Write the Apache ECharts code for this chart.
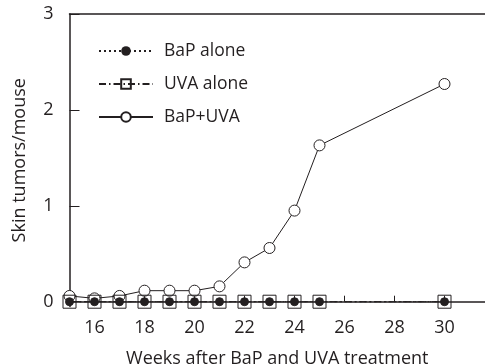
<!DOCTYPE html>
<html>
<head>
<meta charset="utf-8">
<script src="https://cdn.jsdelivr.net/npm/echarts@6/dist/echarts.min.js"></script>
<style>
  html, body { margin: 0; padding: 0; background: #fff; }
  #chart { width: 485px; height: 364px; }
</style>
</head>
<body>
<div id="chart"></div>
<script>
// Weeks after treatment at which tumors were counted
const weeks = [15, 16, 17, 18, 19, 20, 21, 22, 23, 24, 25, 30];
// Skin tumors per mouse
const bapAlone = [0, 0, 0, 0, 0, 0, 0, 0, 0, 0, 0, 0];
const uvaAlone = [0, 0, 0, 0, 0, 0, 0, 0, 0, 0, 0, 0];
const bapUva = [0.06, 0.035, 0.06, 0.115, 0.115, 0.115, 0.16, 0.41, 0.56, 0.95, 1.63, 2.27];

const xTicks = [16, 18, 20, 22, 24, 26, 28, 30];
const yTicks = [0, 1, 2, 3];

const ink = '#231f20';
const font = 'Open Sans';
const fs = 18;

const pairs = arr => weeks.map((w, i) => [w, arr[i]]);

const chart = echarts.init(document.getElementById('chart'));
chart.setOption({
  animation: false,
  textStyle: { fontFamily: font, color: ink },
  grid: { left: 69.5, right: 0, top: 14, bottom: 57.5, outerBoundsMode: 'none' },
  legend: {
    orient: 'vertical',
    left: 98,
    top: 42,
    padding: 0,
    itemWidth: 54,
    itemHeight: 12,
    itemGap: 15,
    textStyle: { fontFamily: font, fontSize: 17.5, color: ink, padding: [0, 0, 0, 6] },
    data: ['BaP alone', 'UVA alone', 'BaP+UVA']
  },
  xAxis: [{
    type: 'value',
    min: 15,
    max: 31.62,
    name: 'Weeks after BaP and UVA treatment',
    nameLocation: 'middle',
    nameGap: 43,
    nameTextStyle: { fontFamily: font, fontSize: fs, color: ink },
    splitLine: { show: false },
    axisLine: { lineStyle: { color: ink, width: 1.5 } },
    axisTick: { inside: true, length: 6, customValues: xTicks, lineStyle: { color: ink } },
    axisLabel: { customValues: xTicks, margin: 12, fontSize: fs, color: ink, fontFamily: font }
  }, {
    type: 'value',
    position: 'top',
    min: 15,
    max: 31.62,
    splitLine: { show: false },
    axisLine: { onZero: false, lineStyle: { color: ink, width: 1.5 } },
    axisTick: { show: false },
    axisLabel: { show: false }
  }],
  yAxis: {
    type: 'value',
    min: -0.05,
    max: 3,
    name: 'Skin tumors/mouse',
    nameLocation: 'middle',
    nameGap: 41,
    nameTextStyle: { fontFamily: font, fontSize: fs, color: ink },
    splitLine: { show: false },
    axisLine: { show: true, lineStyle: { color: ink, width: 1.5 } },
    axisTick: { show: true, inside: true, length: 10, customValues: yTicks, lineStyle: { color: ink } },
    axisLabel: { customValues: yTicks, margin: 16, fontSize: fs, color: ink, fontFamily: font }
  },
  series: [{
    name: 'BaP+UVA',
    type: 'line',
    data: pairs(bapUva),
    symbol: 'circle',
    symbolSize: 11,
    lineStyle: { color: ink, width: 1 },
    itemStyle: { color: '#fff', borderColor: ink, borderWidth: 1 },
    z: 2
  }, {
    name: 'UVA alone',
    type: 'line',
    data: pairs(uvaAlone),
    symbol: 'rect',
    symbolSize: 13,
    lineStyle: { color: ink, width: 1, type: [7, 3, 1.5, 3] },
    itemStyle: { color: 'rgba(255,255,255,0)', borderColor: ink, borderWidth: 1 },
    z: 3
  }, {
    name: 'BaP alone',
    type: 'line',
    data: pairs(bapAlone),
    symbol: 'circle',
    symbolSize: 8,
    lineStyle: { color: ink, width: 1, type: [2, 3] },
    itemStyle: { color: ink, borderColor: ink },
    z: 4
  }]
});
</script>
</body>
</html>
